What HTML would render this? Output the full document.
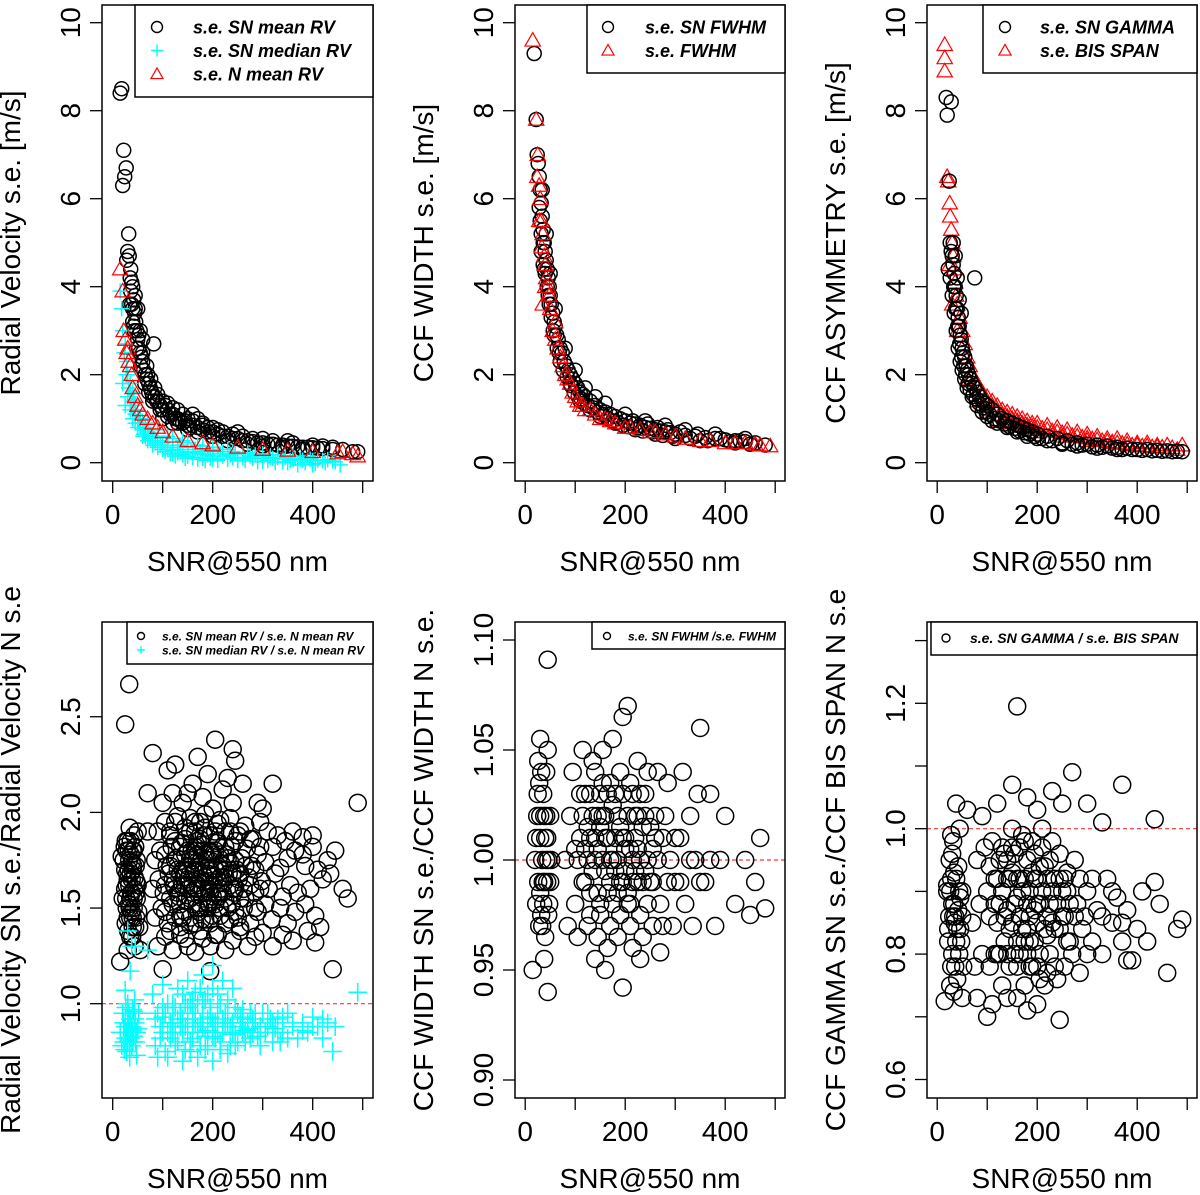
<!DOCTYPE html>
<html><head><meta charset="utf-8"><style>
html,body{margin:0;padding:0;background:#fff}
svg{display:block;font-family:"Liberation Sans",Arial,sans-serif}
</style></head><body>
<svg id="fig" width="1200" height="1195" viewBox="0 0 1200 1195" xmlns="http://www.w3.org/2000/svg"></svg>
<script>
// ---- data (SNR, value) ----
const tlSnMean=[[15,8.4],[18,8.5],[22,7.1],[20,6.3],[27,6.7],[24,6.5],[32,5.2],[30,4.8],[33,4.7],[28,4.6],[35,4.2],[38,4.1],[40,4.0],[36,3.9],[42,3.7],[40,3.5],[44,3.4],[46,3.2],[43,3.0],[48,3.0],[50,2.8],[52,2.6],[55,2.5],[58,2.4],[60,2.3],[62,2.1],[65,2.0],[68,1.9],[70,2.0],[72,1.8],[75,1.7],[78,1.6],[80,1.5],[82,2.7],[85,1.5],[88,1.4],[90,1.4],[95,1.3],[100,1.2],[105,1.3],[110,1.2],[115,1.1],[120,1.1],[125,1.0],[130,1.0],[135,0.95],[140,0.9],[145,0.95],[150,0.85],[155,0.8],[160,0.85],[170,0.8],[180,0.75],[190,0.7],[200,0.7],[210,0.65],[220,0.6],[230,0.6],[240,0.55],[250,0.55],[260,0.5],[270,0.5],[280,0.48],[290,0.45],[300,0.45],[310,0.42],[320,0.42],[330,0.4],[340,0.4],[350,0.38],[360,0.37],[370,0.36],[380,0.35],[390,0.35],[400,0.34],[410,0.33],[420,0.32],[440,0.3],[460,0.3],[480,0.25],[490,0.25],[100,1.0],[120,0.9],[150,1.0],[180,0.9],[200,0.8],[130,1.2],[160,1.1],[60,2.8],[55,3.0],[50,3.5],[45,3.8],[40,3.2],[34,3.6],[250,0.7],[300,0.55],[350,0.5]];
const tlSnMeanExtra=[[45,3.5],[48,2.6],[52,2.9],[56,2.2],[60,2.5],[64,1.8],[68,2.2],[72,1.6],[76,1.9],[80,1.4],[84,1.7],[90,1.55],[95,1.2],[100,1.4],[110,1.05],[110,1.35],[120,1.25],[130,0.9],[140,1.1],[150,0.75],[160,0.95],[170,0.7],[170,1.0],[180,0.85],[190,0.8],[200,0.6],[210,0.75],[220,0.7],[230,0.5],[240,0.65],[260,0.6],[270,0.42],[280,0.55],[300,0.38],[320,0.5],[340,0.35],[360,0.45],[380,0.3],[400,0.4],[420,0.38],[440,0.35],[36,4.4],[38,3.6],[42,3.1]];
const tlSnMedian=[[15,3.9],[18,3.5],[20,3.0],[25,2.7],[28,2.3],[30,2.0],[35,1.8],[40,1.6],[42,1.4],[45,1.3],[50,1.2],[55,1.0],[60,0.9],[65,0.8],[70,0.7],[75,0.65],[80,0.6],[90,0.5],[100,0.45],[110,0.4],[120,0.35],[130,0.3],[140,0.3],[150,0.25],[160,0.22],[170,0.2],[180,0.2],[190,0.18],[200,0.15],[220,0.15],[240,0.12],[260,0.12],[280,0.1],[300,0.1],[320,0.1],[340,0.08],[360,0.08],[380,0.06],[400,0.05],[420,0.05],[440,0.04],[30,1.5],[35,1.2],[40,1.0],[50,0.8],[60,0.6],[80,0.4],[100,0.3],[120,0.2],[150,0.15],[180,0.1],[200,0.08],[250,0.05],[300,0.03],[350,0.0],[400,-0.05],[120,0.55],[150,0.45],[180,0.38],[210,0.3],[240,0.25],[270,0.22],[300,0.2],[330,0.18],[360,0.15],[390,0.13],[25,1.3],[20,1.8],[45,0.9],[70,0.9],[90,0.75],[110,0.6],[140,0.5],[170,0.4],[200,0.35],[230,0.3]];
const tlSnMedianExtra=[[50,1.0],[55,0.8],[60,0.75],[65,0.6],[70,0.5],[75,0.55],[80,0.5],[85,0.45],[90,0.35],[95,0.4],[100,0.35],[105,0.25],[110,0.3],[115,0.2],[120,0.28],[125,0.15],[130,0.22],[135,0.4],[140,0.18],[145,0.1],[150,0.35],[160,0.12],[165,0.3],[170,0.08],[175,0.25],[180,0.3],[185,0.05],[190,0.28],[195,0.1],[200,0.25],[210,0.05],[215,0.2],[220,0.25],[230,0.08],[235,0.18],[245,0.2],[250,0.1],[260,0.2],[265,0.05],[275,0.15],[285,0.18],[290,0.02],[300,0.15],[310,0.05],[315,0.12],[325,0.0],[330,0.12],[340,0.02],[345,0.12],[355,0.05],[365,0.1],[370,-0.05],[375,0.08],[385,0.0],[395,0.08],[405,-0.02],[410,0.06],[425,0.0],[430,0.07],[445,0.02],[455,-0.05],[35,1.5],[38,1.3],[45,1.1],[52,0.9],[62,0.65],[32,1.7],[27,2.0],[23,2.5]];
const tlNMean=[[15,4.4],[20,3.9],[22,3.0],[25,2.8],[30,2.6],[32,2.3],[35,2.2],[40,1.7],[45,1.5],[50,1.3],[55,1.2],[60,1.1],[70,1.0],[80,0.9],[90,0.8],[100,0.7],[120,0.6],[150,0.5],[180,0.45],[200,0.4],[250,0.35],[300,0.3],[350,0.28],[400,0.25],[450,0.22],[480,0.2],[490,0.15],[460,0.25],[38,2.0],[28,2.5]];
const tmSnFwhm=[[18,9.3],[22,7.8],[24,7.0],[26,6.8],[28,6.5],[30,6.2],[32,5.9],[34,5.6],[36,5.3],[38,5.0],[40,4.8],[42,4.6],[44,4.4],[46,4.2],[48,4.0],[50,3.8],[52,3.6],[55,3.4],[58,3.2],[60,3.1],[63,2.9],[66,2.8],[70,2.6],[74,2.5],[78,2.3],[82,2.2],[86,2.1],[90,2.0],[95,1.9],[100,1.8],[105,1.7],[110,1.6],[115,1.55],[120,1.5],[130,1.4],[140,1.3],[150,1.2],[160,1.15],[170,1.1],[180,1.05],[190,1.0],[200,0.95],[210,0.9],[220,0.88],[230,0.85],[240,0.8],[250,0.78],[260,0.75],[270,0.72],[280,0.7],[290,0.68],[300,0.65],[320,0.62],[340,0.6],[360,0.57],[380,0.55],[400,0.52],[420,0.5],[440,0.48],[460,0.45],[480,0.4],[30,5.5],[34,6.2],[38,4.4],[42,5.2],[46,3.8],[50,4.3],[56,3.0],[60,3.5],[70,2.3],[80,2.6],[90,1.8],[100,2.1],[110,1.4],[120,1.7],[130,1.2],[140,1.5],[150,1.05],[160,1.35],[180,0.9],[200,1.1],[220,0.75],[240,0.95],[260,0.65],[280,0.85],[300,0.55],[320,0.75],[350,0.5],[380,0.65],[420,0.45],[440,0.55],[32,4.8],[36,4.5],[28,5.8]];
const tmSnFwhmExtra=[[32,5.2],[36,5.0],[40,4.3],[44,4.0],[48,3.6],[52,3.3],[58,2.9],[64,2.6],[68,2.5],[76,2.1],[84,1.95],[92,1.75],[98,1.6],[106,1.5],[112,1.45],[118,1.35],[125,1.3],[135,1.25],[145,1.15],[155,1.1],[165,1.0],[175,0.95],[185,0.92],[195,0.85],[205,0.82],[215,0.95],[225,0.8],[235,0.72],[245,0.88],[255,0.7],[265,0.8],[275,0.62],[285,0.75],[295,0.6],[310,0.7],[330,0.55],[345,0.65],[365,0.5],[390,0.55],[410,0.48],[430,0.5],[450,0.42]];
const tmFwhm=[[15,9.6],[22,7.8],[25,7.0],[24,6.5],[28,6.3],[30,6.0],[32,5.5],[35,5.2],[38,4.7],[40,4.5],[45,4.0],[50,3.5],[55,3.0],[60,2.8],[70,2.4],[80,2.0],[90,1.8],[100,1.5],[110,1.3],[120,1.2],[130,1.2],[150,1.0],[170,0.95],[200,0.8],[230,0.75],[260,0.7],[300,0.6],[350,0.5],[400,0.45],[440,0.45],[470,0.4],[490,0.38],[60,3.2],[40,4.0],[35,3.6]];
const tmFwhmExtra=[[28,5.5],[33,4.9],[42,4.2],[48,3.8],[65,2.6],[75,2.2],[85,1.9],[95,1.6],[105,1.4],[115,1.3],[140,1.1],[160,1.0],[180,0.9],[210,0.8],[250,0.7],[280,0.65],[320,0.55],[370,0.5],[420,0.45],[460,0.42]];
const trSnGamma=[[18,8.3],[28,8.2],[20,7.9],[24,6.4],[26,5.0],[28,4.8],[30,4.7],[32,4.5],[34,4.3],[36,4.0],[38,3.8],[40,3.5],[42,3.3],[44,3.1],[46,2.9],[48,2.8],[50,2.6],[52,2.5],[55,2.4],[58,2.2],[60,2.1],[63,2.0],[66,1.9],[70,1.8],[75,4.2],[75,1.7],[80,1.6],[85,1.5],[90,1.4],[95,1.35],[100,1.3],[110,1.2],[120,1.1],[130,1.0],[140,0.95],[150,0.9],[160,0.85],[170,0.8],[180,0.75],[190,0.7],[200,0.65],[220,0.6],[240,0.55],[260,0.5],[280,0.45],[300,0.42],[320,0.4],[340,0.38],[360,0.35],[380,0.33],[400,0.3],[420,0.3],[440,0.28],[460,0.27],[480,0.26],[30,3.8],[34,3.4],[38,3.0],[42,2.6],[46,2.3],[50,2.1],[55,1.9],[60,1.7],[70,1.5],[80,1.3],[90,1.15],[100,1.05],[110,0.95],[120,0.9],[140,0.8],[160,0.7],[180,0.6],[200,0.55],[220,0.5],[250,0.42],[280,0.38],[320,0.33],[360,0.3],[32,5.0],[36,4.7],[40,4.2],[44,3.7],[48,3.4],[26,4.2],[22,4.4]];
const trSnGammaExtra=[[33,4.0],[37,3.5],[41,3.1],[45,2.7],[49,2.4],[53,2.2],[57,2.0],[62,1.8],[66,1.65],[72,1.55],[78,1.45],[84,1.35],[92,1.25],[98,1.15],[105,1.1],[115,1.0],[125,0.95],[135,0.88],[145,0.82],[155,0.78],[165,0.72],[175,0.68],[185,0.65],[195,0.6],[210,0.55],[230,0.5],[250,0.45],[270,0.42],[290,0.4],[310,0.36],[330,0.35],[350,0.33],[370,0.3],[390,0.3],[410,0.28],[430,0.27],[450,0.26],[470,0.25],[490,0.25]];
const trBisSpan=[[15,9.5],[15,9.2],[15,8.9],[20,6.5],[22,6.4],[25,5.9],[26,5.6],[28,5.3],[30,5.0],[32,4.7],[34,4.4],[36,4.1],[38,3.8],[40,3.6],[45,3.3],[50,3.0],[55,2.7],[60,2.4],[65,2.2],[70,2.0],[80,1.8],[90,1.6],[100,1.5],[110,1.4],[120,1.3],[130,1.2],[140,1.15],[150,1.1],[160,1.05],[170,1.0],[180,0.95],[190,0.9],[200,0.9],[220,0.85],[240,0.8],[260,0.75],[280,0.7],[300,0.65],[320,0.6],[340,0.55],[360,0.55],[380,0.5],[400,0.45],[420,0.45],[440,0.4],[460,0.4],[490,0.4],[120,0.95],[140,0.9],[160,0.85],[180,0.75],[200,0.7],[250,0.6],[300,0.5],[350,0.45],[100,1.2],[80,1.4],[60,1.9],[40,3.0],[30,3.6],[25,4.5]];
const trBisSpanExtra=[[110,1.3],[120,1.2],[130,1.1],[140,1.05],[150,1.0],[160,0.95],[170,0.9],[180,0.85],[190,0.82],[200,0.8],[210,0.78],[220,0.75],[230,0.72],[240,0.7],[250,0.68],[260,0.65],[270,0.62],[280,0.6],[290,0.58],[300,0.56],[310,0.54],[320,0.52],[330,0.5],[340,0.48],[350,0.47],[360,0.45],[370,0.44],[380,0.42],[390,0.4],[400,0.4],[410,0.38],[420,0.38],[430,0.36],[440,0.36],[450,0.35],[470,0.34],[480,0.3]];
const blMeanRatio=[[22,1.75],[25,1.6],[28,1.5],[30,1.85],[32,1.7],[35,1.45],[38,1.65],[40,1.8],[42,1.55],[45,1.4],[48,1.75],[50,1.62],[26,1.42],[29,1.68],[33,1.52],[36,1.78],[39,1.35],[43,1.88],[46,1.58],[51,1.48],[24,1.82],[31,1.38],[37,1.58],[41,1.72],[44,1.3],[47,1.64],[34,1.92],[27,1.55],[40,1.45],[36,1.68],[30,1.28],[45,1.82],[33,1.62],[38,1.74],[42,1.5],[28,1.8],[35,1.35],[50,1.9],[15,1.22],[20,1.55],[18,1.77],[53,1.4],[55,1.28],
[100,2.05],[120,2.1],[140,2.05],[160,2.15],[180,2.08],[200,2.02],[220,2.12],[240,2.05],[260,2.15],[230,2.18],[150,2.1],[110,2.22],[125,2.25],[170,2.29],[205,2.38],[240,2.33],[245,2.27],[320,2.15],[70,2.1],[80,2.31],[290,2.05],[300,2.02],[190,2.2],
[90,1.9],[105,1.95],[115,1.88],[130,1.98],[145,1.92],[155,1.97],[165,1.9],[175,1.95],[185,1.99],[195,1.88],[210,1.94],[225,1.9],[235,1.97],[250,1.88],[265,1.93],[280,1.86],[295,1.95],[310,1.9],[330,1.88],[345,1.85],[360,1.9],[380,1.87],[400,1.88],[70,1.9],
[85,1.75],[95,1.8],[108,1.72],[118,1.82],[128,1.76],[138,1.84],[148,1.7],[158,1.8],[168,1.74],[178,1.83],[188,1.71],[198,1.79],[208,1.84],[218,1.73],[228,1.78],[238,1.82],[248,1.7],[258,1.76],[268,1.81],[278,1.72],[290,1.78],[305,1.74],[320,1.82],[335,1.71],[350,1.76],[365,1.8],[385,1.72],[410,1.7],[430,1.75],[445,1.8],[380,1.78],[400,1.82],
[80,1.6],[92,1.65],[102,1.58],[112,1.68],[122,1.62],[132,1.56],[142,1.66],[152,1.6],[162,1.69],[172,1.57],[182,1.64],[192,1.6],[202,1.67],[212,1.56],[222,1.63],[232,1.68],[242,1.58],[252,1.65],[262,1.6],[272,1.66],[285,1.58],[298,1.64],[312,1.6],[325,1.68],[340,1.56],[355,1.62],[370,1.58],[395,1.6],[420,1.65],[435,1.68],[460,1.6],[470,1.55],
[85,1.45],[98,1.5],[110,1.42],[120,1.52],[135,1.46],[145,1.54],[155,1.41],[168,1.5],[178,1.44],[190,1.53],[200,1.46],[215,1.5],[225,1.42],[238,1.52],[250,1.45],[262,1.5],[275,1.42],[290,1.48],[305,1.52],[318,1.44],[335,1.5],[350,1.42],[365,1.48],[385,1.52],[405,1.46],[415,1.4],
[90,1.3],[105,1.35],[120,1.28],[135,1.36],[150,1.3],[165,1.27],[180,1.34],[195,1.3],[210,1.36],[225,1.28],[240,1.33],[255,1.38],[270,1.3],[285,1.35],[300,1.37],[320,1.3],[340,1.36],[360,1.33],[390,1.38],[405,1.32],[100,1.18],[195,1.17],[440,1.18],[490,2.05],[25,2.46],[33,2.67],
[150,1.72],[160,1.62],[170,1.78],[180,1.68],[190,1.75],[200,1.62],[210,1.72],[165,1.82],[175,1.65],[185,1.58],[195,1.7],[205,1.8],[215,1.66],[155,1.68],[145,1.78],[225,1.7],[235,1.62],[130,1.7],[140,1.62],[125,1.85],[245,1.75],[182,1.88],[172,1.48],[192,1.52],[160,1.52],[210,1.58],[140,1.45],[120,1.65],[230,1.5],[255,1.55]];
const blMeanRatioExtra=[[105,1.62],[105,1.78],[105,1.48],[115,1.55],[115,1.72],[115,1.9],[115,1.38],[125,1.45],[125,1.6],[125,1.75],[125,1.95],[135,1.52],[135,1.68],[135,1.82],[135,1.4],[145,1.48],[145,1.62],[145,1.86],[145,1.34],[155,1.55],[155,1.76],[155,1.9],[155,1.45],[165,1.6],[165,1.42],[165,1.7],[165,1.95],[175,1.5],[175,1.72],[175,1.86],[175,1.38],[185,1.44],[185,1.66],[185,1.78],[185,1.92],[195,1.58],[195,1.8],[195,1.42],[195,1.64],[205,1.52],[205,1.7],[205,1.9],[205,1.36],[215,1.46],[215,1.78],[215,1.6],[215,1.96],[225,1.55],[225,1.82],[225,1.66],[235,1.44],[235,1.74],[235,1.9],[245,1.6],[245,1.48],[245,1.85],[255,1.68],[255,1.4],[255,1.9],[265,1.55],[265,1.72],[275,1.62],[275,1.86],[285,1.5],[285,1.7],[295,1.6],[295,1.82],[150,1.65],[160,1.75],[170,1.62],[180,1.55],[190,1.68],[200,1.78],[210,1.65],[220,1.58],[230,1.76],[240,1.68],[170,1.85],[190,1.5],[160,1.58],[180,1.8],[200,1.56],[220,1.72],[140,1.7],[130,1.58],[150,1.8],[210,1.85],[240,1.6],[180,1.6],[165,1.8],[195,1.75],
[25,1.7],[28,1.62],[32,1.8],[35,1.55],[38,1.48],[40,1.7],[43,1.6],[46,1.72],[30,1.45],[34,1.5],[42,1.8],[48,1.55],[26,1.85],[36,1.85],[44,1.66],[30,1.65],[38,1.58],[40,1.4],[33,1.75],[47,1.45]];
const blMedianRatio=[[20,0.95],[22,0.8],[25,0.88],[28,0.75],[30,1.0],[32,0.85],[35,0.92],[38,0.78],[40,0.97],[42,0.83],[45,0.9],[48,0.73],[50,0.87],[26,0.98],[34,0.72],[44,1.02],[36,0.82],[30,0.9],[40,0.86],[46,0.8],[24,0.76],[52,0.95],[30,1.38],[45,1.3],[38,1.3],[35,1.17],[25,1.07],[15,0.85],[18,0.78],
[70,1.28],[80,1.05],[90,0.95],[100,0.85],[110,1.0],[120,0.9],[130,0.8],[140,1.05],[150,0.92],[160,0.82],[170,1.0],[180,0.88],[190,0.78],[200,1.08],[210,0.95],[220,0.85],[230,1.02],[240,0.9],[250,0.8],[260,0.97],[270,0.87],[280,0.92],[290,0.83],[300,0.95],[310,0.88],[320,0.8],[330,0.92],[340,0.85],[350,0.95],[360,0.88],[370,0.82],[380,0.9],[390,0.85],[400,0.93],[410,0.88],[420,0.82],[430,0.9],[445,0.88],[490,1.06],[440,0.75],[85,0.78],[95,0.88],[105,0.75],[115,0.82],[125,0.98],[135,0.88],[145,0.76],[155,1.0],[165,0.9],[175,0.78],[185,1.02],[195,0.93],[205,0.82],[215,1.0],[225,0.9],[235,0.78],[245,0.98],[255,0.88],[265,0.8],[275,0.95],[285,0.9],[295,0.78],[305,0.85],[315,0.92],[325,0.87],[335,0.8],[100,1.1],[150,1.12],[180,1.15],[200,1.2],[220,1.12],[130,1.08],[165,1.06],[240,1.08],[110,0.72],[140,0.7],[170,0.72],[200,0.7],[230,0.74],[90,0.72],[120,0.95],[150,0.85],[180,0.95],[210,0.88],[160,0.95],[190,0.86],[140,0.92],[230,0.95],[260,0.92],[280,0.85],[120,0.85],[100,0.93],[200,0.9],[170,0.85]];
const blMedianRatioExtra=[[85,0.92],[95,0.82],[105,0.95],[115,0.9],[125,0.85],[135,0.95],[145,0.88],[155,0.8],[165,0.95],[175,0.9],[185,0.83],[195,0.98],[205,0.9],[215,0.8],[225,0.95],[235,0.88],[245,0.84],[255,0.93],[265,0.86],[275,0.82],[285,0.95],[295,0.88],[110,0.85],[130,0.92],[150,0.98],[170,0.88],[190,0.92],[210,0.85],[230,0.9],[250,0.95],[270,0.9],[290,0.85],[120,1.0],[140,0.85],[160,0.88],[180,1.0],[200,0.83],[220,0.92],[240,0.84],[260,0.85],[100,0.98],[160,1.02],[190,1.05],[210,1.05],[175,1.08],[145,1.0],[125,0.78],[155,0.75],[185,0.76],[215,0.76],[245,0.78],[320,0.9],[340,0.93],[360,0.9],[380,0.86],[400,0.88],[420,0.92],[350,0.82],[310,0.95],[330,0.85],
[22,0.9],[28,0.85],[32,0.95],[36,0.88],[40,0.8],[44,0.92],[48,0.85],[26,0.82],[34,0.78],[42,0.96],[30,0.8],[38,0.88]];
const bmFwhmRatio=[[20,1.0],[22,0.98],[25,1.03],[28,0.97],[30,1.01],[32,1.04],[35,0.99],[38,1.02],[40,0.965],[42,1.0],[45,1.05],[48,0.98],[50,1.02],[26,1.045],[34,0.97],[44,0.99],[36,1.03],[30,0.985],[40,1.01],[46,0.975],[24,1.02],[52,1.0],[45,1.091],[45,0.94],[15,0.95],[38,0.955],[30,1.055],[42,1.04],
[80,1.0],[90,1.02],[100,0.98],[110,1.03],[120,0.99],[130,1.01],[140,1.04],[150,0.98],[160,1.02],[170,1.0],[180,1.03],[190,0.99],[200,1.01],[210,0.98],[220,1.02],[230,1.0],[240,1.03],[250,0.99],[260,1.01],[270,0.98],[280,1.02],[290,1.0],[300,0.99],[310,1.01],[320,0.98],[330,1.02],[340,1.0],[350,1.06],[360,0.99],[370,1.03],[380,0.97],[390,1.0],[400,1.02],[420,0.98],[440,1.0],[460,0.99],[480,0.978],[470,1.01],[450,0.975],[85,0.97],[95,1.04],[105,0.965],[115,1.05],[125,0.97],[135,1.045],[145,0.965],[155,1.05],[165,0.96],[175,1.055],[185,0.965],[195,1.065],[205,1.07],[215,0.96],[225,1.045],[235,0.965],[245,1.04],[255,0.97],[265,1.04],[275,0.97],[285,1.035],[295,0.97],[315,1.04],[335,0.97],[345,1.03],[195,0.942],[160,0.95],[140,0.955],[230,0.955],[270,0.958],[120,1.03],[150,1.015],[170,0.99],[190,1.015],[210,1.005],[160,0.995],[180,1.01],[200,0.995],[220,1.01],[140,1.0],[130,0.985],[250,1.015],[240,0.995],[110,1.01],[100,1.005],[175,1.025],[185,0.985],[165,1.03],[205,0.985],[155,1.035],[145,1.02],[225,0.99],[260,1.02],[195,1.03],[215,1.03]];
const bmFwhmRatioExtra=[[105,1.0],[115,0.99],[115,1.02],[125,1.0],[125,1.015],[135,0.995],[135,1.02],[145,1.005],[145,0.985],[155,1.0],[155,1.02],[165,1.01],[165,0.985],[175,1.0],[175,0.98],[185,1.02],[185,1.0],[195,0.99],[195,1.01],[205,1.02],[205,0.98],[215,1.0],[215,0.99],[225,1.02],[225,1.005],[235,0.99],[235,1.015],[245,1.0],[245,0.98],[255,1.005],[255,0.99],[265,1.0],[275,1.01],[285,0.99],[150,0.975],[170,0.97],[190,0.975],[210,0.97],[230,0.975],[130,0.975],[150,1.03],[170,1.035],[190,1.04],[210,1.035],[230,1.03],[130,1.03],[160,1.01],[180,0.995],[200,1.005],[220,0.995],[120,1.005],[140,1.01],[240,1.02],[260,1.01],[300,1.01],[310,0.99],[330,1.0],[350,0.99],[370,1.0],
[22,1.01],[26,0.99],[30,1.02],[34,1.0],[38,0.99],[42,1.02],[46,1.0],[50,0.99],[28,1.035],[36,0.98],[44,1.01],[32,0.975]];
const brGammaRatio=[[20,0.9],[22,0.82],[25,0.95],[28,0.78],[30,0.88],[32,0.98],[35,0.85],[38,0.92],[40,0.76],[42,0.87],[45,1.0],[48,0.82],[50,0.9],[26,0.75],[34,0.93],[44,0.8],[36,0.86],[30,0.96],[40,0.84],[46,0.89],[24,0.86],[52,0.78],[15,0.725],[50,0.73],[33,0.74],[38,1.04],[28,0.99],[20,0.91],
[70,0.85],[80,0.95],[90,0.8],[100,0.9],[110,0.98],[120,0.85],[130,0.75],[140,0.92],[150,1.0],[160,0.82],[170,0.9],[180,0.95],[190,0.78],[200,0.88],[210,0.97],[220,0.83],[230,0.9],[240,0.76],[250,0.86],[260,0.93],[270,0.8],[280,0.88],[290,0.84],[300,0.9],[310,0.82],[320,0.87],[330,0.8],[340,0.92],[350,0.85],[360,0.89],[370,0.82],[380,0.87],[390,0.79],[400,0.84],[410,0.9],[420,0.82],[435,0.915],[445,0.88],[490,0.855],[480,0.84],[460,0.77],[380,0.79],[75,0.78],[85,0.88],[95,0.97],[105,0.78],[115,0.88],[125,0.95],[135,0.82],[145,0.78],[155,0.88],[165,0.97],[175,0.75],[185,0.86],[195,0.92],[205,0.8],[215,0.75],[225,0.95],[235,0.84],[245,0.92],[255,0.78],[265,0.88],[275,0.95],[285,0.77],[295,0.86],[160,1.195],[270,1.09],[370,1.07],[150,1.07],[435,1.015],[245,0.695],[100,0.7],[110,0.72],[80,0.73],[180,0.71],[200,0.72],[140,0.73],[160,0.73],[60,1.03],[90,1.02],[120,1.04],[180,1.05],[200,1.03],[230,1.06],[250,1.04],[330,1.01],[300,1.04],[140,0.87],[150,0.93],[160,0.89],[170,0.84],[180,0.88],[190,0.93],[200,0.85],[210,0.9],[220,0.92],[130,0.9],[165,0.8],[185,0.82],[205,0.94],[195,0.87],[175,0.92],[150,0.85],[120,0.92],[230,0.85],[250,0.9],[260,0.82]];
const brGammaRatioExtra=[[105,0.86],[105,0.94],[115,0.8],[115,0.92],[125,0.88],[125,0.8],[135,0.96],[135,0.86],[145,0.84],[145,0.92],[155,0.8],[155,0.96],[165,0.86],[165,0.92],[175,0.82],[175,0.98],[185,0.9],[185,0.78],[195,0.82],[195,0.96],[205,0.88],[205,0.76],[215,0.84],[215,0.94],[225,0.8],[225,0.88],[235,0.92],[235,0.78],[245,0.84],[245,0.96],[255,0.86],[255,0.92],[265,0.82],[275,0.86],[285,0.92],[160,0.78],[180,0.8],[200,0.78],[220,0.77],[140,0.8],[150,0.97],[170,0.99],[190,0.98],[210,1.0],[230,0.98],[130,0.97],[160,0.92],[180,0.84],[200,0.92],[220,0.86],[120,0.8],[140,0.95],[240,0.88],[260,0.9],[300,0.8],[310,0.92],[330,0.86],[350,0.9],[370,0.85],
[22,0.84],[26,0.9],[30,0.8],[34,0.88],[38,0.82],[42,0.94],[46,0.84],[50,0.86],[28,0.92],[36,0.78],[44,0.9],[32,0.86]];
const xTicks=[0,100,200,300,400,500];
const xTickLabels=["0","200","400"];
const topYTicks=[0,2,4,6,8,10];
const blYTicks=[1.0,1.5,2.0,2.5];
const bmYTicks=[0.90,0.95,1.00,1.05,1.10];
const brYTicks=[0.6,0.7,0.8,0.9,1.0,1.1,1.2,1.3];
const brYLabels=[0.6,0.8,1.0,1.2];

const NS="http://www.w3.org/2000/svg";
const svg=document.getElementById('fig');
function el(tag,attrs,parent,txt){const e=document.createElementNS(NS,tag);for(const k in attrs)e.setAttribute(k,attrs[k]);if(txt!==undefined)e.textContent=txt;(parent||svg).appendChild(e);return e;}

function panel(cfg){
  const g=el('g',{});
  
  
  const sx=v=>cfg.x0+0.5*v;
  const sy=v=>cfg.yBase-cfg.yScale*(v-cfg.yRef);
  xTicks.forEach(t=>{const l=el('line',{x1:sx(t),x2:sx(t),y1:cfg.bottom,y2:cfg.bottom+12,stroke:'#000','stroke-width':1.3},g);
    });
  [0,200,400].forEach((t,i)=>{const tx=el('text',{x:sx(t),y:cfg.bottom+43,'font-size':28,'text-anchor':'middle'},g,xTickLabels[i]);
    });
  const xt=el('text',{x:(cfg.left+cfg.right)/2,y:cfg.bottom+90,'font-size':28,'text-anchor':'middle'},g,'SNR@550 nm');
  
  cfg.yTicks.forEach(t=>{const l=el('line',{x1:cfg.left-12,x2:cfg.left,y1:sy(t),y2:sy(t),stroke:'#000','stroke-width':1.3},g);
    });
  cfg.yLabels.forEach(t=>{const y=sy(t);const tx=el('text',{x:cfg.left-22,y:y,'font-size':28,'text-anchor':'middle',transform:`rotate(-90 ${cfg.left-22} ${y})`},g,cfg.fmt(t));
    });
  const cy=(cfg.top+cfg.bottom)/2;
  const yt=el('text',{x:cfg.left-82,y:cy,'font-size':28,'text-anchor':'middle',transform:`rotate(-90 ${cfg.left-82} ${cy})`},g,cfg.ytitle);
  
  if(cfg.refLine){const l=el('line',{x1:cfg.left,x2:cfg.right,y1:sy(1),y2:sy(1),stroke:'#ff3030','stroke-width':1.2,'stroke-dasharray':'4,3'},g);
    }
  cfg.series.forEach(s=>{
    const sg=el('g',{},g);
    
    
    s.data.forEach(d=>drawMark(sg,s.shape,sx(d[0]),sy(d[1]),cfg.r,cfg.sw));
  });
  const box=el('rect',{x:cfg.left,y:cfg.top,width:cfg.right-cfg.left,height:cfg.bottom-cfg.top,fill:'none',stroke:'#000','stroke-width':1.5},g);
  
  const L=cfg.legend;
  const lg=el('g',{},g);
  
  
  el('rect',{x:L.x,y:L.y,width:L.w,height:L.h,fill:'#fff',stroke:'#000','stroke-width':1.5},lg);
  L.items.forEach((it,i)=>{
    const y=L.y+L.first+i*L.step;
    const eg=el('g',{},lg);
    
    
    drawMark(eg,it.shape,L.sx,y,L.r,1.4);
    el('text',{x:L.tx,y:y+L.fs*0.36,'font-size':L.fs,'font-weight':'bold','font-style':'italic'},eg,it.label);
  });
}
function drawMark(g,shape,x,y,r,sw){
  if(shape==='circle'){el('circle',{cx:x,cy:y,r:r,fill:'none',stroke:'#000','stroke-width':sw},g);}
  else if(shape==='plus'){el('path',{d:`M${x-r*1.1} ${y}H${x+r*1.1}M${x} ${y-r*1.1}V${y+r*1.1}`,stroke:'#00ffff','stroke-width':sw,fill:'none'},g);}
  else {const h=r*1.1;el('path',{d:`M${x} ${y-h}L${x+h} ${y+h*0.75}L${x-h} ${y+h*0.75}Z`,stroke:'#ff0000','stroke-width':1.2,fill:'none'},g);}
}
const topCommon={top:5,bottom:481,yBase:462.7,yScale:44,yRef:0,yTicks:topYTicks,yLabels:topYTicks,fmt:v=>String(v),r:7,sw:1.5};
panel(Object.assign({},topCommon,{name:'panel-rv-se',left:102,right:373,x0:112.7,ytitle:'Radial Velocity s.e. [m/s]',
  series:[{name:'series-sn-mean-rv',shape:'circle',data:tlSnMean.concat(tlSnMeanExtra)},{name:'series-sn-median-rv',shape:'plus',data:tlSnMedian.concat(tlSnMedianExtra)},{name:'series-n-mean-rv',shape:'tri',data:tlNMean}],
  legend:{x:135,y:5,w:238,h:92,first:22,step:23.5,sx:157,tx:193,fs:18,r:5.5,items:[{shape:'circle',label:'s.e. SN mean RV'},{shape:'plus',label:'s.e. SN median RV'},{shape:'tri',label:'s.e. N mean RV'}]}}));
panel(Object.assign({},topCommon,{name:'panel-width-se',left:515,right:785,x0:525.2,ytitle:'CCF WIDTH s.e. [m/s]',
  series:[{name:'series-sn-fwhm',shape:'circle',data:tmSnFwhm.concat(tmSnFwhmExtra)},{name:'series-fwhm',shape:'tri',data:tmFwhm.concat(tmFwhmExtra)}],
  legend:{x:587,y:5,w:198,h:68,first:22,step:23.5,sx:608,tx:645,fs:18,r:5.5,items:[{shape:'circle',label:'s.e. SN FWHM'},{shape:'tri',label:'s.e. FWHM'}]}}));
panel(Object.assign({},topCommon,{name:'panel-asym-se',left:927,right:1197,x0:937.2,ytitle:'CCF ASYMMETRY s.e. [m/s]',
  series:[{name:'series-bis-span',shape:'tri',data:trBisSpan.concat(trBisSpanExtra)},{name:'series-sn-gamma',shape:'circle',data:trSnGamma.concat(trSnGammaExtra)}],
  legend:{x:983,y:5,w:214,h:68,first:22,step:23.5,sx:1005,tx:1040,fs:18,r:5.5,items:[{shape:'circle',label:'s.e. SN GAMMA'},{shape:'tri',label:'s.e. BIS SPAN'}]}}));
const botCommon={top:622,bottom:1098,refLine:true,r:8.5,sw:1.5};
panel(Object.assign({},botCommon,{name:'panel-rv-ratio',left:102,right:373,x0:112.7,yBase:1003.7,yScale:191.3,yRef:1,yTicks:blYTicks,yLabels:blYTicks,fmt:v=>v.toFixed(1),
  ytitle:'Radial Velocity SN s.e./Radial Velocity N s.e',
  series:[{name:'series-mean-ratio',shape:'circle',data:blMeanRatio.concat(blMeanRatioExtra)},{name:'series-median-ratio',shape:'plus',data:blMedianRatio.concat(blMedianRatioExtra)}],
  legend:{x:127,y:622,w:246,h:42,first:14,step:14,sx:141,tx:162,fs:12,r:3.5,items:[{shape:'circle',label:'s.e. SN mean RV / s.e. N mean RV'},{shape:'plus',label:'s.e. SN median RV / s.e. N mean RV'}]}}));
panel(Object.assign({},botCommon,{name:'panel-width-ratio',left:515,right:785,x0:525.2,yBase:860,yScale:2200,yRef:1,yTicks:bmYTicks,yLabels:bmYTicks,fmt:v=>v.toFixed(2),
  ytitle:'CCF WIDTH SN s.e./CCF WIDTH N s.e.',
  series:[{name:'series-fwhm-ratio',shape:'circle',data:bmFwhmRatio.concat(bmFwhmRatioExtra)}],
  legend:{x:592,y:622,w:193,h:27,first:14,step:14,sx:607,tx:628,fs:12,r:3.5,items:[{shape:'circle',label:'s.e. SN FWHM /s.e. FWHM'}]}}));
panel(Object.assign({},botCommon,{name:'panel-asym-ratio',left:927,right:1197,x0:937.2,yBase:828.7,yScale:627,yRef:1,yTicks:brYTicks,yLabels:brYLabels,fmt:v=>v.toFixed(1),
  ytitle:'CCF GAMMA SN s.e./CCF BIS SPAN N s.e',
  series:[{name:'series-gamma-ratio',shape:'circle',data:brGammaRatio.concat(brGammaRatioExtra)}],
  legend:{x:931,y:622,w:266,h:33,first:16,step:14,sx:946,tx:970,fs:14,r:4,items:[{shape:'circle',label:'s.e. SN GAMMA / s.e. BIS SPAN'}]}}));
</script>
</body></html>
